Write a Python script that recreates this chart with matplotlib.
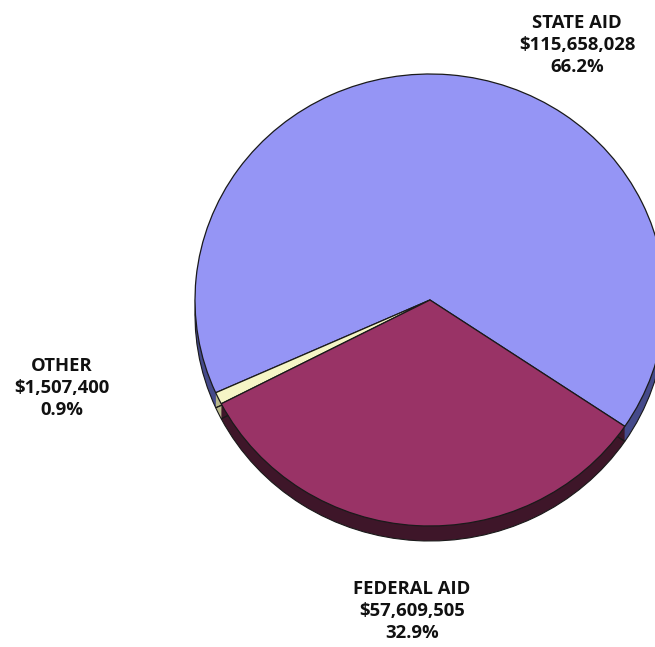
import matplotlib
matplotlib.use("Agg")
import matplotlib.pyplot as plt

# Revenue sources
categories = ["STATE AID", "OTHER", "FEDERAL AID"]
amounts = [115658028, 1507400, 57609505]
percents = ["66.2%", "0.9%", "32.9%"]

top_colors = ["#9595F5", "#F5F5C6", "#993366"]
side_colors = ["#454A8A", "#B9B98C", "#3E1629"]

W, H = 655, 647
fig = plt.figure(figsize=(W / 100, H / 100), dpi=100)
ax = fig.add_axes([0, 0, 1, 1])

# disc is slightly flattened: vertical pixels per data unit
squash = 226 / 235
cx, cy = 430, (H - 300) / squash
radius = 235
depth = 15 / squash
start = 326

# side wall of the tilted disc: stacked copies shifted downward
n_layers = 16
for i in range(n_layers, 0, -1):
    d = depth * i / n_layers
    ax.pie(amounts, colors=side_colors, startangle=start, counterclock=True,
           center=(cx, cy - d), radius=radius,
           wedgeprops=dict(linewidth=0, edgecolor="none"))
ax.pie(amounts, colors=["none"] * 3, startangle=start, counterclock=True,
       center=(cx, cy - depth), radius=radius,
       wedgeprops=dict(linewidth=0.8, edgecolor="#1a1a1a", fill=False))

# top face
ax.pie(amounts, colors=top_colors, startangle=start, counterclock=True,
       center=(cx, cy), radius=radius,
       wedgeprops=dict(linewidth=0.9, edgecolor="#1a1a1a"))

ax.set_aspect("auto")
ax.set_xlim(0, W)
ax.set_ylim(0, H / squash)
ax.axis("off")

font = dict(family=["Open Sans", "DejaVu Sans"], fontsize=13.3,
            fontweight="bold", color="#111111", ha="center", va="center",
            linespacing=1.32)

label_pos = {"STATE AID": (577, 45), "OTHER": (62, 388), "FEDERAL AID": (412, 611)}
for name, amt, pct in zip(categories, amounts, percents):
    x, y = label_pos[name]
    fig.text(x / W, 1 - y / H, f"{name}\n${amt:,}\n{pct}", **font)

fig.savefig("out.png", dpi=100)
